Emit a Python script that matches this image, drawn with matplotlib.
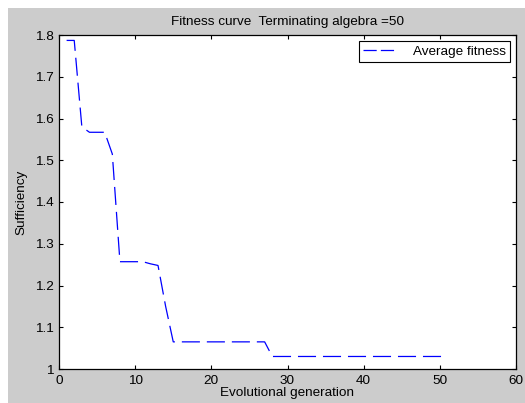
# Fitness curve of the genetic algorithm run (terminating generation = 50),
# styled after the old MATLAB figure window: gray figure, boxed axes, inward ticks.

import matplotlib
matplotlib.use("Agg")
import matplotlib.pyplot as plt
from matplotlib.patches import Rectangle

plt.rcParams["font.family"] = ["Liberation Sans", "DejaVu Sans"]
plt.rcParams["lines.scale_dashes"] = False

generation = [1, 2, 3, 4, 5, 6, 7, 8, 9, 10,
              11, 12, 13, 14, 15, 16, 17, 18, 19, 20,
              21, 22, 23, 24, 25, 26, 27, 28, 29, 30,
              31, 32, 33, 34, 35, 36, 37, 38, 39, 40,
              41, 42, 43, 44, 45, 46, 47, 48, 49, 50, 51]
avg_fitness = [1.787, 1.787, 1.580, 1.567, 1.567, 1.567, 1.515, 1.257, 1.257, 1.257,
               1.257, 1.252, 1.248, 1.150, 1.065, 1.065, 1.065, 1.065, 1.065, 1.065,
               1.065, 1.065, 1.065, 1.065, 1.065, 1.065, 1.065, 1.030, 1.030, 1.030,
               1.030, 1.030, 1.030, 1.030, 1.030, 1.030, 1.030, 1.030, 1.030, 1.030,
               1.030, 1.030, 1.030, 1.030, 1.030, 1.030, 1.030, 1.030, 1.030, 1.030, 1.030]

x_ticks = [0, 10, 20, 30, 40, 50, 60]
y_ticks = [1, 1.1, 1.2, 1.3, 1.4, 1.5, 1.6, 1.7, 1.8]
y_tick_labels = ["1", "1.1", "1.2", "1.3", "1.4", "1.5", "1.6", "1.7", "1.8"]

FS = 9.7
W, H = 525, 403
fig = plt.figure(figsize=(W / 100, H / 100), dpi=100, facecolor="white")
# gray figure area, leaving a thin white strip on top and left like the screenshot
fig.patches.append(Rectangle((8 / W, 0), 1, 1 - 8 / H, transform=fig.transFigure,
                             facecolor="#cccccc", edgecolor="none", zorder=-1))

ax = fig.add_axes([59 / W, (H - 369) / H, 457 / W, 334 / H])
ax.plot(generation, avg_fitness, color="#0000ff", linewidth=0.9,
        dashes=(13, 5), label="Average fitness")

ax.set_xlim(0, 60)
ax.set_ylim(1, 1.8)
ax.set_xticks(x_ticks)
ax.set_yticks(y_ticks)
ax.set_xticklabels([str(t) for t in x_ticks])
ax.set_yticklabels(y_tick_labels)
ax.tick_params(direction="in", length=3, width=0.8, top=True, right=True,
               labelsize=FS, colors="black", pad=4)
for s in ax.spines.values():
    s.set_linewidth(0.9)

ax.set_title("Fitness curve  Terminating algebra =50", fontsize=FS, pad=7)
ax.set_xlabel("Evolutional generation", fontsize=FS, labelpad=0)
ax.set_ylabel("Sufficiency", fontsize=FS, labelpad=5)

leg = ax.legend(loc="upper right", fontsize=FS, fancybox=False, framealpha=1,
                edgecolor="black", borderaxespad=0.45, handlelength=2.3,
                handletextpad=1.4, borderpad=0.3)
leg.get_frame().set_linewidth(0.8)
leg.get_lines()[0].set_dashes((9.5, 3))

fig.savefig("out.png", dpi=100, facecolor=fig.get_facecolor())
